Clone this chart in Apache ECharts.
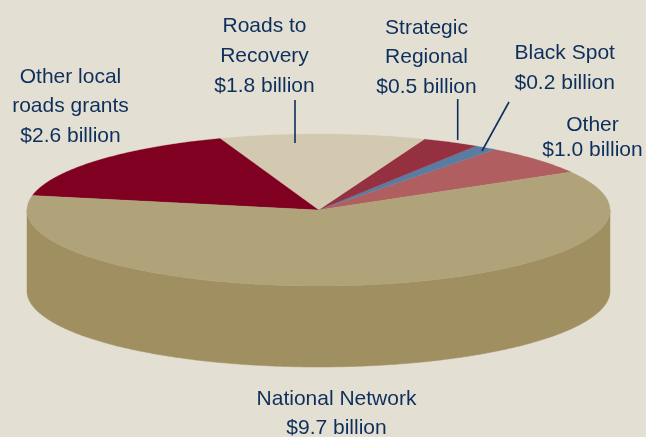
<!DOCTYPE html>
<html><head><meta charset="utf-8">
<script src="https://cdn.jsdelivr.net/npm/echarts@6/dist/echarts.min.js"></script>
<style>html,body{margin:0;padding:0;background:#E4DFD3}#c{width:646px;height:437px}</style>
</head><body><div id="c"></div>
<script>
// ---- data ----
const categories = ['Other', 'Black Spot', 'Strategic Regional', 'Roads to Recovery', 'Other local roads grants', 'National Network'];
const values = [1.0, 0.2, 0.5, 1.8, 2.6, 9.7];
const labelTexts = [
  'Other\n$1.0 billion',
  'Black Spot\n$0.2 billion',
  'Strategic\nRegional\n$0.5 billion',
  'Roads to\nRecovery\n$1.8 billion',
  'Other local\nroads grants\n$2.6 billion',
  'National Network\n$9.7 billion'
];

// ---- styles / layout ----
const topColors  = ['#B05E5F', '#5B7CA1', '#953040', '#D3C9B1', '#800022', '#B0A279'];
const sideColors = ['#934A4B', '#4A6688', '#7A2634', '#B8AE95', '#66001B', '#A09061'];
const CX = 318.5, CY = 210, RX = 291.5, RY = 76, DEPTH = 81, START = 30;
const labelPos = [[592.5, 137.5, 25], [564.7, 68, 30], [426.5, 57.5, 29.5], [264.5, 56.5, 30], [70.5, 106.5, 29.5], [336.5, 413.5, 29]];
const leaders = [null, [509, 102, 482, 151], [457.7, 99, 457.7, 140], [295, 100, 295, 143], null, null];
const TEXT_COLOR = '#0D2F5C';

function pt(a, dy) {
  const r = a * Math.PI / 180;
  return [CX + RX * Math.cos(r), CY - RY * Math.sin(r) + (dy || 0)];
}
function arc(a0, a1, dy) {
  const pts = [];
  const n = Math.max(2, Math.ceil(Math.abs(a1 - a0) / 0.5));
  for (let k = 0; k <= n; k++) pts.push(pt(a0 + (a1 - a0) * k / n, dy));
  return pts;
}

function renderItem(params, api) {
  const i = params.dataIndex;
  const total = values.reduce((s, v) => s + v, 0);
  let a0 = START;
  for (let k = 0; k < i; k++) a0 += values[k] / total * 360;
  const a1 = a0 + api.value(1) / total * 360;
  const children = [];
  // visible side wall (front half: 180..360)
  for (let m = -1; m <= 1; m++) {
    const s = Math.max(a0, 180 + 360 * m), e = Math.min(a1, 360 + 360 * m);
    if (e > s) {
      const top = arc(s, e, 0), bot = arc(e, s, DEPTH);
      children.push({ type: 'polygon', shape: { points: top.concat(bot) },
        style: { fill: sideColors[i], stroke: sideColors[i], lineWidth: 0.5 } });
    }
  }
  // top face
  children.push({ type: 'polygon', shape: { points: [[CX, CY]].concat(arc(a0, a1, 0)) },
    style: { fill: topColors[i], stroke: topColors[i], lineWidth: 0.3 } });
  // leader line
  const L = leaders[i];
  if (L) children.push({ type: 'line', shape: { x1: L[0], y1: L[1], x2: L[2], y2: L[3] },
    style: { stroke: TEXT_COLOR, lineWidth: 1.6 } });
  // label
  const P = labelPos[i];
  children.push({ type: 'text', style: {
    text: labelTexts[i], x: P[0], y: P[1], align: 'center', verticalAlign: 'middle',
    fill: TEXT_COLOR, fontSize: 21, fontFamily: 'Liberation Sans, Arial, sans-serif', lineHeight: P[2] } });
  return { type: 'group', children };
}

const chart = echarts.init(document.getElementById('c'), null, { renderer: 'canvas' });
chart.setOption({
  backgroundColor: '#E4DFD3',
  animation: false,
  series: [{
    type: 'custom',
    coordinateSystem: 'none',
    silent: true,
    renderItem,
    data: values.map((v, i) => ({ name: categories[i], value: [i, v] }))
  }]
});
</script>
</body></html>
